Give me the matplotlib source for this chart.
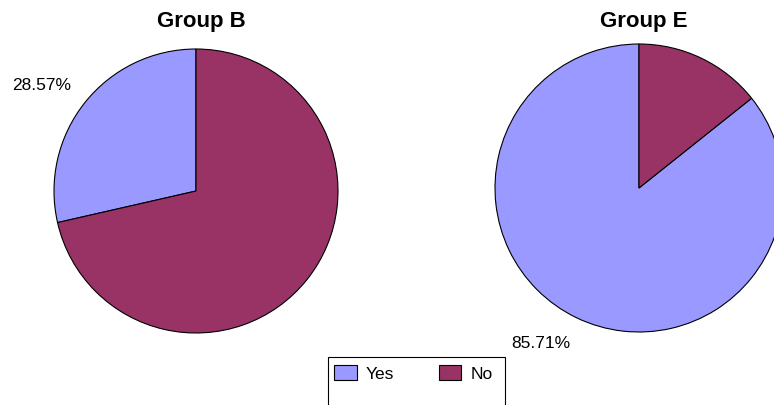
# Yes/No split for two groups, drawn as side-by-side pies
import matplotlib.pyplot as plt
from matplotlib.patches import Patch, Rectangle

plt.rcParams['font.family'] = ['Liberation Sans', 'DejaVu Sans']

answers = ['Yes', 'No']
colors = ['#9999FF', '#993366']
groups = ['Group B', 'Group E']
group_b = [28.57, 71.43]
group_e = [85.71, 14.29]

W, H = 774, 405
fig = plt.figure(figsize=(W / 100, H / 100), dpi=100)
ax = fig.add_axes([0, 0, 1, 1])

# pie centres / radii in pixel space (y measured from the top)
layout = [((196, 191), 142), ((639, 188), 144)]
label_pos = [(42, 85), (541, 344)]
title_x = [201, 644]

for name, vals, (c, r), lp, tx in zip(groups, [group_b, group_e], layout, label_pos, title_x):
    ax.pie(vals, colors=colors, startangle=90, counterclock=True,
           center=(c[0], H - c[1]), radius=r,
           wedgeprops=dict(edgecolor='black', linewidth=0.8))
    ax.text(lp[0], H - lp[1], f'{vals[0]:.2f}%', fontsize=12.5,
            ha='center', va='center')
    ax.text(tx, H - 21, name, fontsize=16, fontweight='bold',
            ha='center', va='center')

ax.set_xlim(0, W)
ax.set_ylim(0, H)
ax.set_aspect('auto')
ax.axis('off')

# legend box runs off the bottom edge
ax.add_patch(Rectangle((328, H - 430), 177, 73, facecolor='white',
                       edgecolor='black', linewidth=0.8, clip_on=True))
handles = [Patch(facecolor=col, edgecolor='black', linewidth=0.8, label=a)
           for a, col in zip(answers, colors)]
ax.legend(handles=handles, ncol=2, frameon=False, fontsize=12.5,
          loc='upper left', bbox_to_anchor=(322, H - 353),
          bbox_transform=ax.transData, handlelength=1.3, handleheight=0.95,
          handletextpad=0.5, columnspacing=2.6, borderpad=0.2)

fig.savefig('out.png', dpi=100)
